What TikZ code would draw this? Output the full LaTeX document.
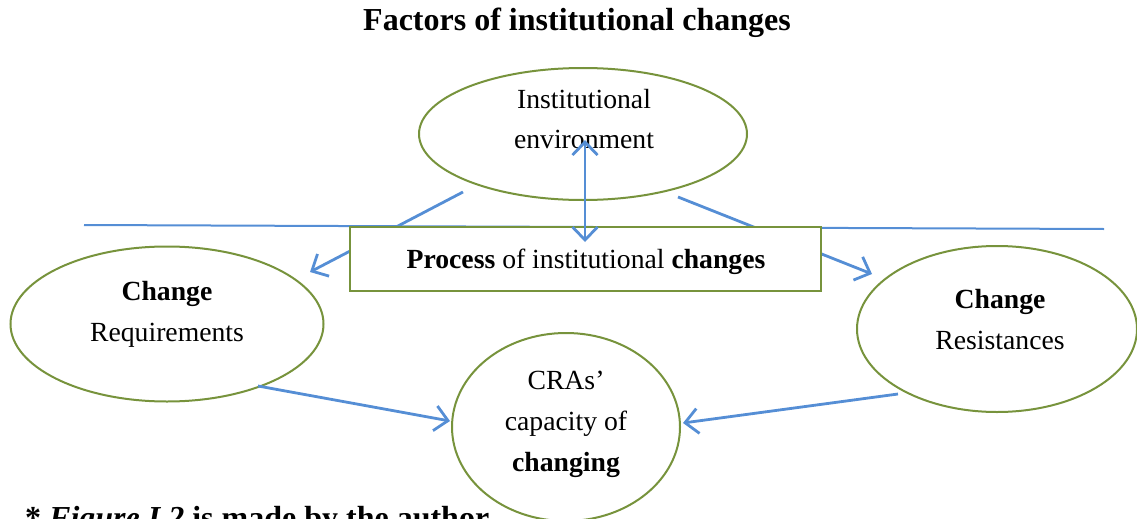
\documentclass[tikz,border=0pt]{standalone}
\usepackage{fontspec}
\setmainfont{Liberation Serif}
\usetikzlibrary{arrows.meta,shapes.geometric}
\definecolor{olivegreen}{HTML}{77933C}
\definecolor{lineblue}{HTML}{558ED5}
\begin{document}
\begin{tikzpicture}[x=1pt,y=-1pt,
  ell/.style={ellipse, draw=olivegreen, line width=2pt, fill=white, inner sep=0pt},
  boxstyle/.style={rectangle, draw=olivegreen, line width=2pt, fill=white, inner sep=0pt},
  txt/.style={anchor=base, inner sep=0pt, font=\fontsize{27.7}{33}\selectfont},
  big/.style={anchor=base, inner sep=0pt, font=\bfseries\fontsize{32}{38}\selectfont},
  conn/.style={draw=lineblue, line width=2.8pt, -{Straight Barb[length=13pt,width=25pt]}},
  dconn/.style={draw=lineblue, line width=2.8pt, {Straight Barb[length=13pt,width=25pt]}-{Straight Barb[length=13pt,width=25pt]}},
  sep/.style={draw=lineblue, line width=2pt}]
\useasboundingbox (0,0) rectangle (1137,519);
\clip (0,0) rectangle (1137,519);

% title
\node[big] (title) at (577,31) {Factors of institutional changes};

% ellipses
\node[ell, minimum width=328pt, minimum height=132pt] (env) at (583,134) {};
\node[ell, minimum width=313pt, minimum height=155pt] (req) at (167,324) {};
\node[ell, minimum width=280pt, minimum height=166pt] (res) at (997,329) {};
\node[ell, minimum width=228pt, minimum height=188pt] (cap) at (566,427) {};

% separator line
\coordinate (sepL) at (84,225);
\coordinate (sepR) at (1104,229);
\draw[sep] (sepL) -- (sepR);

% arrows from environment to sides (behind box)
\coordinate (envL) at (463,192);
\coordinate (reqT) at (310,272);
\coordinate (envR) at (678,197);
\coordinate (resT) at (872,274);
\draw[conn] (envL) -- (reqT);
\draw[conn] (envR) -- (resT);

% process box
\node[boxstyle, minimum width=471pt, minimum height=64pt] (box) at (585.5,259) {};
\node[txt] (boxtext) at (586,268) {\textbf{Process} of institutional \textbf{changes}};

% texts
\node[txt] (envt1) at (584,108) {Institutional};
\node[txt] (envt2) at (584,148) {environment};
\node[txt] (reqt1) at (167,300) {\textbf{Change}};
\node[txt] (reqt2) at (167,341) {Requirements};
\node[txt] (rest1) at (1000,308) {\textbf{Change}};
\node[txt] (rest2) at (1000,349) {Resistances};
\node[txt] (capt1) at (566,389) {CRAs’};
\node[txt] (capt2) at (566,430) {capacity of};
\node[txt] (capt3) at (566,471) {\textbf{changing}};

% double arrow
\coordinate (boxT) at (585,242);
\coordinate (envB) at (585,140);
\draw[dconn] (boxT) -- (envB);

% arrows to capacity
\coordinate (reqB) at (258,386);
\coordinate (capL) at (450,421);
\coordinate (resB) at (898,394);
\coordinate (capR) at (683,423);
\draw[conn] (reqB) -- (capL);
\draw[conn] (resB) -- (capR);

% footer
\node[big, anchor=base west] (foot) at (25,528) {* \textit{Figure I.2} is made by the author};
\end{tikzpicture}
\end{document}
